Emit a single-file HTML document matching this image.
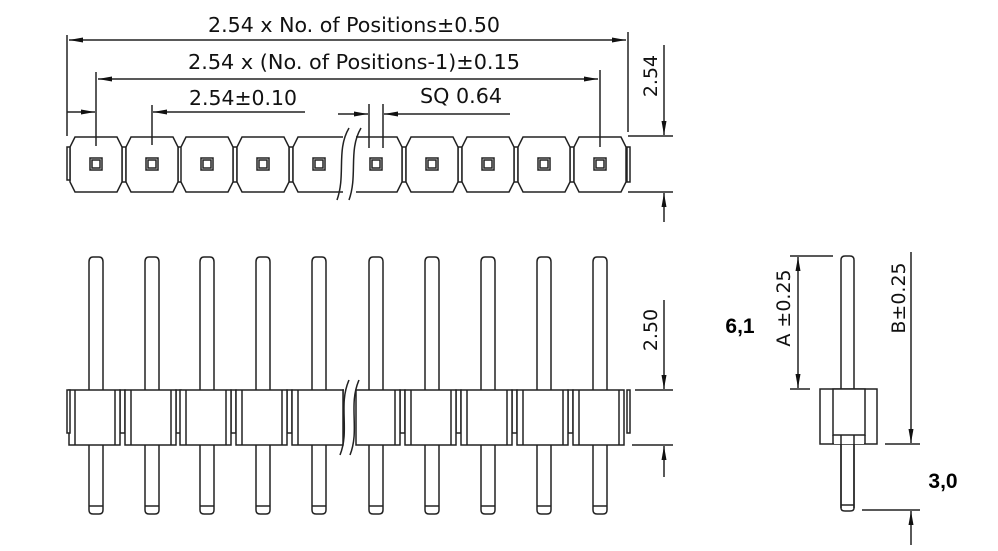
<!DOCTYPE html>
<html><head><meta charset="utf-8"><style>
html,body{margin:0;padding:0;background:#fff;}
svg{display:block;}
text{font-family:"DejaVu Sans","Liberation Sans",sans-serif;fill:#111;}
.b{font-family:"Liberation Sans",Arial,sans-serif;font-weight:bold;fill:#000;}
</style></head><body>
<svg id="s" width="998" height="551" viewBox="0 0 998 551" xmlns="http://www.w3.org/2000/svg">
<defs>
<marker id="a" markerWidth="14" markerHeight="6" refX="14" refY="3" orient="auto" markerUnits="userSpaceOnUse"><path d="M0,0.5 L14,3 L0,5.5 Z" fill="#111"/></marker>
</defs>
<g id="g" stroke="#222" stroke-width="1.5" fill="none"></g>
<text x="208" y="32" font-size="20" textLength="292" lengthAdjust="spacingAndGlyphs">2.54 x No. of Positions±0.50</text>
<text x="188" y="69" font-size="20" textLength="332" lengthAdjust="spacingAndGlyphs">2.54 x (No. of Positions-1)±0.15</text>
<text x="189" y="105" font-size="20" textLength="108" lengthAdjust="spacingAndGlyphs">2.54±0.10</text>
<text x="420" y="103" font-size="20" textLength="82" lengthAdjust="spacingAndGlyphs">SQ 0.64</text>
<text transform="translate(657,76) rotate(-90)" font-size="19" text-anchor="middle">2.54</text>
<text transform="translate(657,330) rotate(-90)" font-size="19" text-anchor="middle">2.50</text>
<text transform="translate(790,308) rotate(-90)" font-size="19" text-anchor="middle">A ±0.25</text>
<text transform="translate(905,298) rotate(-90)" font-size="19" text-anchor="middle">B±0.25</text>
<text class="b" x="740" y="333" font-size="21" text-anchor="middle">6,1</text>
<text class="b" x="943" y="488" font-size="21" text-anchor="middle">3,0</text>
</svg>
<script>
var g=document.getElementById('g'),h='';
function L(x1,y1,x2,y2,m){h+='<line x1="'+x1+'" y1="'+y1+'" x2="'+x2+'" y2="'+y2+'"'+(m?' marker-end="url(#a)"':'')+'/>';}
function R(x,y,w,hh,f){h+='<rect x="'+x+'" y="'+y+'" width="'+w+'" height="'+hh+'"'+(f?' fill="#fff"':'')+'/>';}
function P(pts,closed){var s=pts.map(function(p){return p.join(',')}).join(' ');h+=closed?'<polygon fill="#fff" points="'+s+'"/>':'<polyline fill="#fff" points="'+s+'"/>';}
var C=[96,152,207,263,319,376,432,488,544,600];
C.forEach(function(c,i){
 if(i<9){R(c+26,147,4,35);}
 if(i==4)P([[343,137],[c-21,137],[c-26,147],[c-26,182],[c-21,192],[343,192]],0);
 else if(i==5)P([[356,137],[c+21,137],[c+26,147],[c+26,182],[c+21,192],[356,192]],0);
 else P([[c-21,137],[c+21,137],[c+26,147],[c+26,182],[c+21,192],[c-21,192],[c-26,182],[c-26,147]],1);
 R(c-6,158,12,12);R(c-4,160,8,8);
});
h+='<rect x="67" y="147" width="3" height="33" fill="#fff"/><rect x="627" y="147" width="3" height="35" fill="#fff"/>';
h+='<rect x="344" y="130" width="11" height="70" fill="#fff" stroke="none"/>';
h+='<path d="M349,128 C336,150 346,175 337,200"/><path d="M361,128 C348,150 358,175 349,200"/>';
L(67,35,67,136);L(628,32,628,132);
L(347,40,69,40,1);L(347,40,626,40,1);
L(96,72,96,146);L(600,70,600,147);
L(348,79,98,79,1);L(348,79,598,79,1);
L(67,112,95,112,1);L(152,105,152,145);L(305,112,153,112,1);
L(369,104,369,148);L(383,104,383,148);
L(338,114,368,114,1);L(510,114,384,114,1);
L(628,136,673,136);L(628,192,673,192);
L(664,45,664,135,1);L(664,222,664,193,1);
C.forEach(function(c){
 h+='<path fill="#fff" d="M'+(c-7)+',510 L'+(c-7)+',262 Q'+(c-7)+',257 '+(c-3)+',257 L'+(c+3)+',257 Q'+(c+7)+',257 '+(c+7)+',262 L'+(c+7)+',510 Q'+(c+7)+',514 '+(c+3)+',514 L'+(c-3)+',514 Q'+(c-7)+',514 '+(c-7)+',510 Z"/>';
 L(c-7,506,c+7,506);
});
C.forEach(function(c,i){
 var l=c-27,r=c+24;
 if(i<9){R(r,390,5,43,1);}
 var x1=l,x2=r;if(i==4)x2=343;if(i==5)x1=356;
 R(x1,390,x2-x1,55,1);
 if(i!=5)L(c-21,390,c-21,445);
 if(i!=4)L(c+19,390,c+19,445);
});
h+='<rect x="67" y="390" width="3" height="43" fill="#fff"/><rect x="627" y="390" width="3" height="43" fill="#fff"/>';
h+='<rect x="344" y="385" width="11" height="66" fill="#fff" stroke="none"/>';
h+='<path d="M349,380 C338,405 350,430 340,455"/><path d="M359,380 C348,405 360,430 350,455"/>';
L(635,390,673,390);L(632,445,673,445);
L(664,300,664,389,1);L(664,477,664,446,1);
h+='<path fill="#fff" d="M841,508 L841,260 Q841,256 845,256 L850,256 Q854,256 854,260 L854,508 Q854,511 850,511 L845,511 Q841,511 841,508 Z"/>';
L(841,505,854,505);
R(820,389,57,55,1);R(833,389,32,46,1);
h+='<rect x="834" y="436" width="30" height="8" fill="#fff" stroke="none"/>';
L(833,435,833,444);L(865,435,865,444);
L(841,435,841,508);L(854,435,854,508);
L(790,256,833,256);L(790,389,810,389);
L(798,322,798,257,1);L(798,322,798,388,1);
L(911,252,911,443,1);L(885,444,920,444);L(862,510,920,510);L(911,545,911,511,1);
g.innerHTML=h;
</script>
</body></html>
